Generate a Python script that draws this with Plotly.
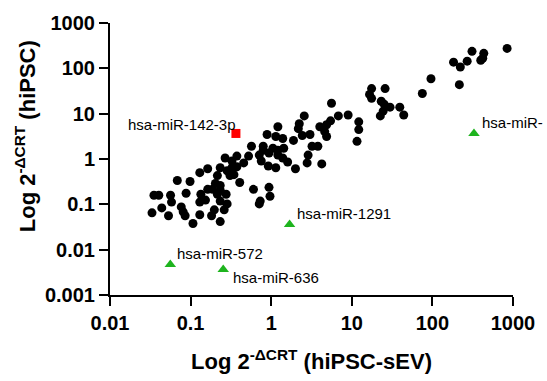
import math
import plotly.graph_objects as go

# Black points: x = hiPSC-sEV, y = hiPSC
x_vals = [845, 310, 434, 421, 398, 183, 270, 222, 216, 96, 75,
          17.6, 25.9, 16.6, 17.6, 23.2, 25.2, 29.8, 39.4, 24.5, 22.6, 44.1,
          12.2, 12.2, 11.6, 5.6, 2.57, 6.81, 9.0, 5.45, 4.87, 4.01, 2.23, 2.17,
          2.43, 3.03, 4.61, 4.87, 1.21, 1.39, 1.89, 3.21, 3.79, 1.43, 1.21, 2.87,
          1.39, 2.79, 4.24, 2.0, 0.889, 1.14, 0.569, 0.796, 1.05, 0.939, 1.21,
          0.711, 0.375, 0.524, 0.753, 0.326, 0.456, 0.375, 0.233, 0.163, 0.284,
          1.60, 0.130, 0.345, 0.215, 0.407, 0.603, 0.163, 0.233, 0.939, 0.268,
          0.326, 0.0684, 0.0984, 0.203, 0.233, 0.308, 0.187, 0.0879, 0.134,
          0.215, 0.276, 0.0351, 0.0403, 0.0564, 0.058, 0.130, 0.153, 0.233,
          0.284, 0.0439, 0.0766, 0.0809, 0.261, 0.197, 0.0332, 0.0532, 0.0855,
          0.130, 0.182, 0.107, 0.233, 0.966, 0.731, 0.711, 0.796, 1.14, 0.92]
y_vals = [275, 237, 214, 167, 151, 137, 144, 107, 43.7, 59, 27.9,
          35.8, 35.8, 26.6, 21.8, 18.8, 16.2, 13.9, 13.9, 11.4, 8.91, 9.37,
          6.61, 4.45, 2.45, 17.0, 8.91, 8.91, 9.37, 6.95, 5.70, 5.15, 5.98, 4.67,
          3.30, 3.47, 4.02, 3.14, 5.15, 2.84, 2.57, 1.91, 1.91, 1.73, 1.56, 1.22,
          1.05, 0.82, 0.78, 0.608, 3.47, 3.14, 1.91, 1.91, 1.73, 1.35, 1.22,
          1.22, 1.16, 1.16, 0.905, 0.905, 0.82, 0.673, 0.64, 0.608, 0.551,
          0.861, 0.499, 0.452, 0.43, 0.303, 0.214, 0.214, 0.204, 0.237, 1.05,
          0.64, 0.335, 0.319, 0.289, 0.261, 0.43, 0.214, 0.176, 0.167,
          0.167, 0.167, 0.159, 0.159, 0.159, 0.112, 0.112, 0.124, 0.118,
          0.102, 0.0834, 0.0877, 0.0684, 0.0755, 0.0755, 0.065, 0.056, 0.056,
          0.0589, 0.056, 0.0377, 0.0416, 0.151, 0.118, 0.102, 1.56, 0.64, 0.70]

# Highlighted miRNAs
red_names = ["hsa-miR-142-3p"]
red_x = [0.365]
red_y = [3.66]

green_names = ["hsa-miR-572", "hsa-miR-636", "hsa-miR-1291", "hsa-miR-"]
green_x = [0.056, 0.254, 1.69, 328]
green_y = [0.0047, 0.00365, 0.0359, 3.66]

x_ticks = [0.01, 0.1, 1, 10, 100, 1000]
x_tick_text = ["0.01", "0.1", "1", "10", "100", "1000"]
y_ticks = [0.001, 0.01, 0.1, 1, 10, 100, 1000]
y_tick_text = ["0.001", "0.01", "0.1", "1", "10", "100", "1000"]

FONT = "Arial, Liberation Sans, Helvetica, sans-serif"

fig = go.Figure()
fig.add_trace(go.Scatter(x=x_vals, y=y_vals, mode="markers",
                         marker=dict(color="black", size=9, symbol="circle"),
                         showlegend=False, cliponaxis=False))
fig.add_trace(go.Scatter(x=red_x, y=red_y, mode="markers",
                         marker=dict(color="#ff0000", size=9, symbol="square"),
                         showlegend=False, cliponaxis=False))
fig.add_trace(go.Scatter(x=green_x, y=green_y, mode="markers",
                         marker=dict(color="#1eb41e", size=10, symbol="triangle-up"),
                         showlegend=False, cliponaxis=False))

label_offsets = {
    "hsa-miR-142-3p": ("right", 2, 9),
    "hsa-miR-572": ("left", 5, 11),
    "hsa-miR-636": ("left", 8, -8),
    "hsa-miR-1291": ("left", 5, 11),
    "hsa-miR-": ("left", 6, 11),
}
for n, xx, yy in list(zip(red_names, red_x, red_y)) + list(zip(green_names, green_x, green_y)):
    anc, xs, ys = label_offsets[n]
    fig.add_annotation(x=math.log10(xx), y=math.log10(yy), xref="x", yref="y",
                       text=n, showarrow=False, xanchor=anc, yanchor="middle",
                       xshift=xs, yshift=ys,
                       font=dict(family=FONT, size=15, color="black"))

# Axis titles
fig.add_annotation(xref="paper", yref="paper", x=0.5, y=-0.239,
                   text="<b>Log 2<sup>-ΔCRT</sup> (hiPSC-sEV)</b>", showarrow=False,
                   xanchor="center", yanchor="middle",
                   font=dict(family=FONT, size=22, color="black"))
fig.add_annotation(xref="paper", yref="paper", x=-0.21, y=0.585,
                   text="<b>Log 2<sup>-ΔCRT</sup> (hiPSC)</b>", showarrow=False,
                   textangle=-90, xanchor="center", yanchor="middle",
                   font=dict(family=FONT, size=22, color="black"))

axis_common = dict(type="log", showgrid=False, zeroline=False,
                   showline=True, linecolor="black", linewidth=2,
                   ticks="outside", ticklen=9, tickwidth=2, tickcolor="black",
                   tickfont=dict(family=FONT, size=20, color="black", weight="bold"))
fig.update_xaxes(range=[-2, 3], tickvals=x_ticks, ticktext=x_tick_text, **axis_common)
fig.update_yaxes(range=[-3, 3], tickvals=y_ticks, ticktext=y_tick_text, **axis_common)

fig.update_layout(width=547, height=381, plot_bgcolor="white", paper_bgcolor="white",
                  margin=dict(l=110, r=24, t=17, b=86))
fig.write_html("out.html")
